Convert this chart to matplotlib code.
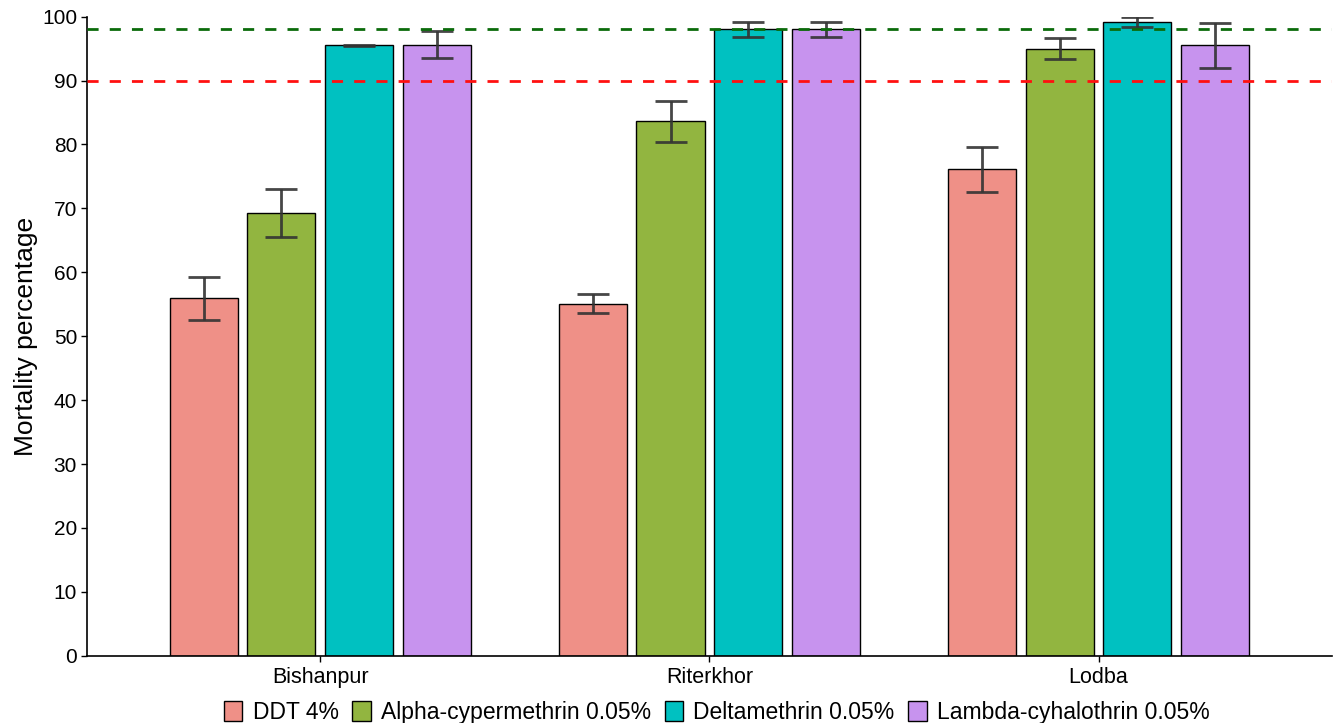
import numpy as np
import matplotlib
matplotlib.use('Agg')
import matplotlib.pyplot as plt

matplotlib.rcParams['font.family'] = ['Liberation Sans', 'DejaVu Sans']

# data
sites = ['Bishanpur', 'Riterkhor', 'Lodba']
insecticides = ['DDT 4%', 'Alpha-cypermethrin 0.05%', 'Deltamethrin 0.05%', 'Lambda-cyhalothrin 0.05%']
colors = ['#EF9087', '#92B540', '#00C1C1', '#C793EE']

ddt = [55.9, 55.1, 76.1]
alpha = [69.3, 83.6, 95.0]
delta = [95.5, 98.0, 99.1]
lambda_ = [95.6, 98.0, 95.5]

ddt_err = [3.4, 1.5, 3.5]
alpha_err = [3.8, 3.2, 1.6]
delta_err = [0.1, 1.2, 0.8]
lambda_err = [2.1, 1.2, 3.5]

means = [ddt, alpha, delta, lambda_]
errs = [ddt_err, alpha_err, delta_err, lambda_err]

fig = plt.figure(figsize=(13.36, 7.23), dpi=100)
ax = fig.add_axes([0.065, 0.093, 0.932, 0.884])

x = np.arange(1, len(sites) + 1)
step = 0.2
width = 0.175
for i, (m, e) in enumerate(zip(means, errs)):
    pos = x + (i - 1.5) * step
    ax.bar(pos, m, width=width, color=colors[i], edgecolor='black', linewidth=1.0,
           label=insecticides[i], zorder=2)
    ax.errorbar(pos, m, yerr=e, fmt='none', ecolor='#333333', elinewidth=2,
                capsize=11.5, capthick=2, alpha=0.9, zorder=3)

# reference lines
ax.axhline(98, color='#0B6B0B', linestyle=(0, (4, 4)), linewidth=2, zorder=4)
ax.axhline(90, color='#FF1010', linestyle=(0, (4, 4)), linewidth=2, zorder=4)

ax.set_xlim(0.4, 3.6)
ax.set_ylim(0, 100)
ax.set_xticks(x)
ax.set_xticklabels(sites, fontsize=15.5)
ax.set_yticks(np.arange(0, 101, 10))
ax.tick_params(axis='y', labelsize=15, length=4, width=1, pad=3)
ax.tick_params(axis='x', length=4, width=1, pad=4)
ax.set_ylabel('Mortality percentage', fontsize=19, labelpad=3)

for s in ['top', 'right']:
    ax.spines[s].set_visible(False)
for s in ['left', 'bottom']:
    ax.spines[s].set_linewidth(1.2)

ax.legend(loc='upper center', bbox_to_anchor=(0.506, -0.071), ncol=4, frameon=False,
          fontsize=16.5, handlelength=0.8, handleheight=0.95, handletextpad=0.45,
          columnspacing=0.6, borderaxespad=0, borderpad=0)

fig.savefig('out.png', dpi=100)
